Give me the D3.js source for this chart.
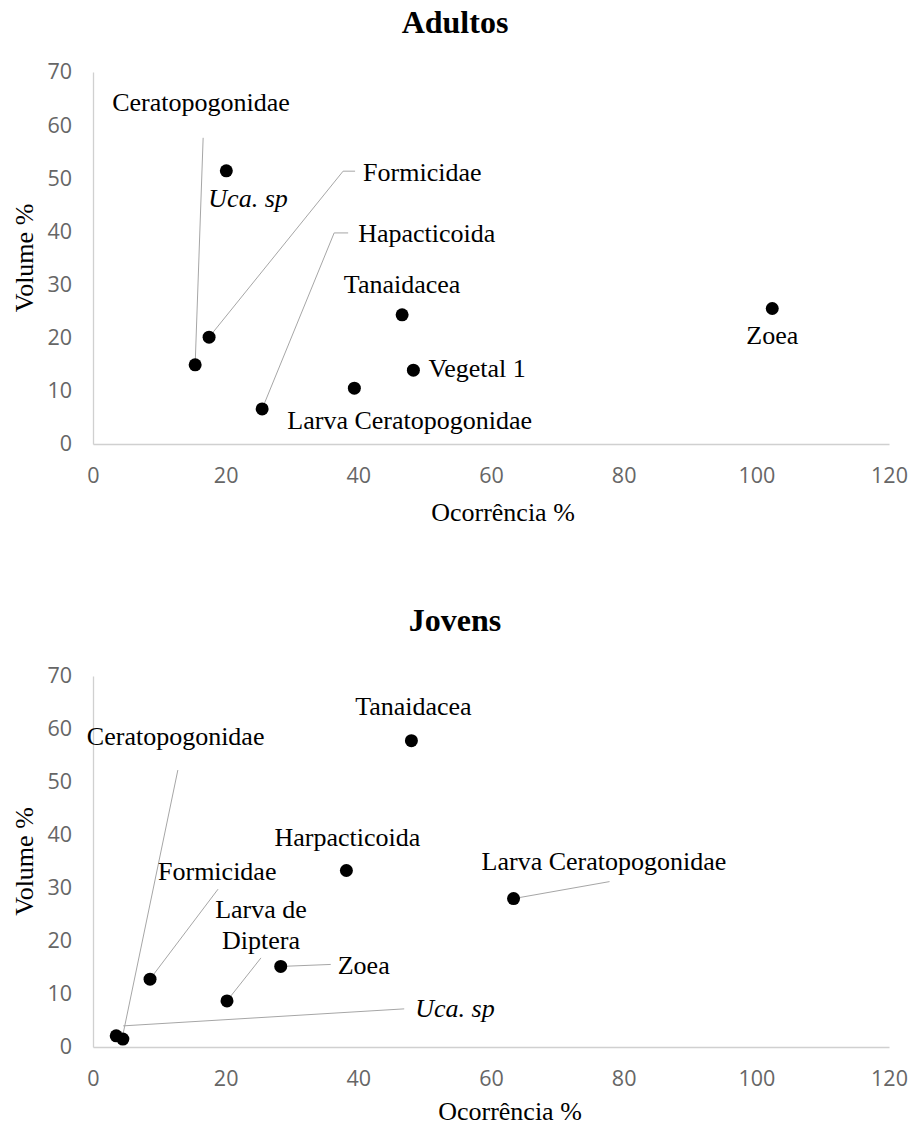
<!DOCTYPE html>
<html>
<head>
<meta charset="utf-8">
<script src="https://cdn.jsdelivr.net/npm/d3@7"></script>
<style>
  body { margin: 0; background: #fff; }
  text { font-family: "Liberation Serif", "Times New Roman", serif; }
</style>
</head>
<body>
<div id="chart"></div>
<script>
// tick labels
var xTicks = [0, 20, 40, 60, 80, 100, 120];
var yTicks = [0, 10, 20, 30, 40, 50, 60, 70];

// Adultos
var adultNames = ["Ceratopogonidae", "Formicidae", "Uca. sp", "Hapacticoida",
                  "Larva Ceratopogonidae", "Tanaidacea", "Vegetal 1", "Zoea"];
var adultOcorr = [15.4, 17.5, 20.1, 25.5, 39.4, 46.6, 48.3, 102.4];
var adultVol   = [14.9, 20.1, 51.4, 6.6, 10.5, 24.3, 13.9, 25.5];

// Jovens
var youngNames = ["Tanaidacea", "Harpacticoida", "Larva Ceratopogonidae", "Zoea",
                  "Formicidae", "Larva de Diptera", "Uca. sp", "Ceratopogonidae"];
var youngOcorr = [48.0, 38.2, 63.4, 28.3, 8.6, 20.2, 3.5, 4.5];
var youngVol   = [57.8, 33.3, 28.0, 15.2, 12.8, 8.7, 2.1, 1.5];

// label placement (pixel offsets from the point), leaders as offset paths
var adultLabels = [
  {dx: -83, dy: -262, anchor: "start", leader: [[8, -227]]},
  {dx: 154, dy: -165, anchor: "start", leader: [[134, -166], [146, -166]]},
  {dx: -18, dy: 28, anchor: "start", italic: true},
  {dx: 96, dy: -176, anchor: "start", leader: [[72, -176], [86, -176]]},
  {dx: -67, dy: 32, anchor: "start"},
  {dx: 0, dy: -30, anchor: "middle"},
  {dx: 15, dy: -2, anchor: "start"},
  {dx: 0, dy: 27, anchor: "middle"}
];
var youngLabels = [
  {dx: 2, dy: -34, anchor: "middle"},
  {dx: 1, dy: -33, anchor: "middle"},
  {dx: -32, dy: -37, anchor: "start", leader: [[96, -17]]},
  {dx: 57, dy: -1, anchor: "start", leader: [[50, -2]]},
  {dx: 8, dy: -108, anchor: "start", leader: [[68, -90]]},
  {dx: 34, dy: -91, anchor: "middle", lines: ["Larva de", "Diptera"], leader: [[34, -43]]},
  {dx: 299, dy: -27, anchor: "start", italic: true, start: [7, -10], leader: [[288, -27]]},
  {dx: -36, dy: -303, anchor: "start", start: [0, -4], leader: [[55, -269]]}
];

var width = 913, height = 1128;

var svg = d3.select("#chart")
    .append("svg")
    .attr("width", width)
    .attr("height", height);

function drawPanel(cfg) {
    var x = d3.scaleLinear().domain([0, 120]).range([cfg.left, cfg.right]);
    var y = d3.scaleLinear().domain([0, 70]).range([cfg.bottom, cfg.top]);
    var g = svg.append("g");

    g.append("text")
        .attr("x", 455)
        .attr("y", cfg.titleY)
        .attr("text-anchor", "middle")
        .style("font-size", "32px")
        .style("font-weight", "bold")
        .text(cfg.title);

    var xAxis = g.append("g")
        .attr("transform", "translate(0," + cfg.bottom + ")")
        .call(d3.axisBottom(x).tickValues(xTicks).tickSize(0).tickPadding(24));
    var yAxis = g.append("g")
        .attr("transform", "translate(" + cfg.left + ",0)")
        .call(d3.axisLeft(y).tickValues(yTicks).tickSize(0).tickPadding(21));

    [xAxis, yAxis].forEach(function(a) {
        a.select(".domain").attr("stroke", "#d0d0d0").attr("stroke-width", 1.3);
        a.selectAll("text")
            .style("font-family", "'Open Sans', sans-serif")
            .style("font-size", "21.5px")
            .attr("fill", "#666666");
    });

    g.append("text")
        .attr("x", cfg.xTitleX)
        .attr("y", cfg.xTitleY)
        .attr("text-anchor", "middle")
        .style("font-size", "26px")
        .text("Ocorrência %");

    g.append("text")
        .attr("transform", "translate(33," + (cfg.top + cfg.bottom) / 2 + ") rotate(-90)")
        .attr("text-anchor", "middle")
        .style("font-size", "26px")
        .text("Volume %");

    var data = cfg.names.map(function(n, i) {
        return {name: n, x: cfg.xs[i], y: cfg.ys[i], lab: cfg.labels[i]};
    });

    // leader lines
    g.selectAll(".leader")
        .data(data.filter(function(d) { return d.lab.leader; }))
        .enter()
        .append("polyline")
        .attr("fill", "none")
        .attr("stroke", "#a6a6a6")
        .attr("stroke-width", 1)
        .attr("points", function(d) {
            var px = x(d.x), py = y(d.y);
            var s = d.lab.start || [0, 0];
            var pts = [[px + s[0], py + s[1]]].concat(d.lab.leader.map(function(p) {
                return [px + p[0], py + p[1]];
            }));
            return pts.map(function(p) { return p.join(","); }).join(" ");
        });

    g.selectAll("circle")
        .data(data)
        .enter()
        .append("circle")
        .attr("cx", function(d) { return x(d.x); })
        .attr("cy", function(d) { return y(d.y); })
        .attr("r", 6.5)
        .attr("fill", "#000");

    data.forEach(function(d) {
        var lines = d.lab.lines || [d.name];
        lines.forEach(function(line, k) {
            g.append("text")
                .attr("x", x(d.x) + d.lab.dx)
                .attr("y", y(d.y) + d.lab.dy + k * 31)
                .attr("dy", "0.33em")
                .attr("text-anchor", d.lab.anchor)
                .style("font-size", "26px")
                .style("font-style", d.lab.italic ? "italic" : "normal")
                .attr("fill", "#000")
                .text(line);
        });
    });
}

drawPanel({
    title: "Adultos", titleY: 33,
    left: 93, right: 889, top: 72, bottom: 444,
    xTitleX: 503, xTitleY: 521,
    names: adultNames, xs: adultOcorr, ys: adultVol, labels: adultLabels
});

drawPanel({
    title: "Jovens", titleY: 631,
    left: 93, right: 889, top: 676, bottom: 1047,
    xTitleX: 510, xTitleY: 1120,
    names: youngNames, xs: youngOcorr, ys: youngVol, labels: youngLabels
});
</script>
</body>
</html>
